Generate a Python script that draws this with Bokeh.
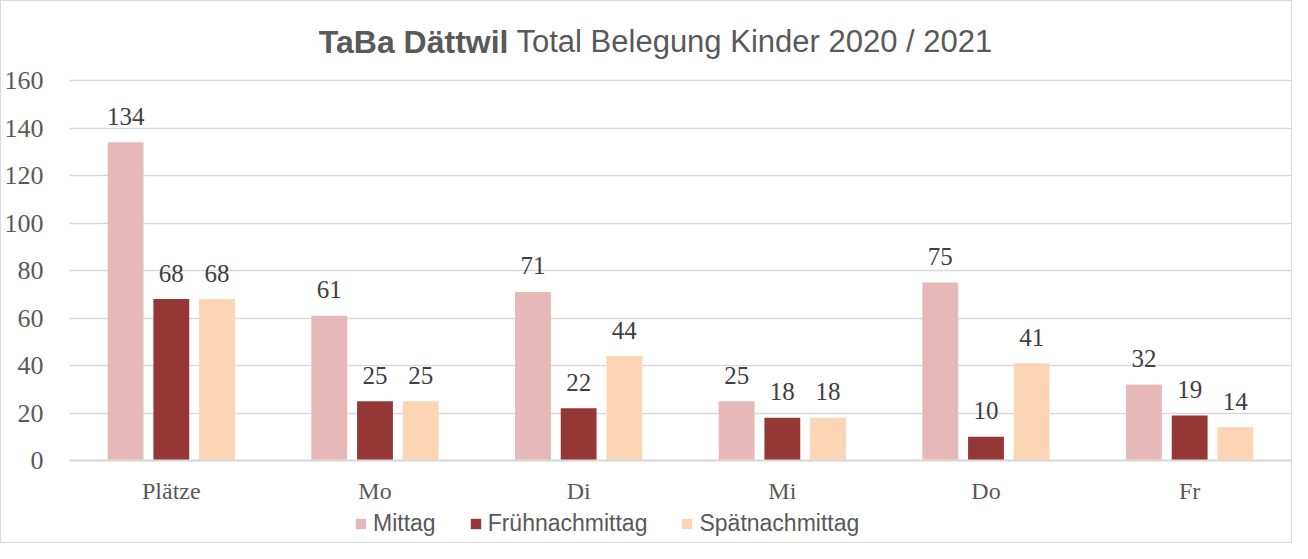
from bokeh.plotting import figure
from bokeh.models import (ColumnDataSource, FactorRange, Range1d, FixedTicker,
                          Legend, LegendItem, Label)
from bokeh.transform import dodge
from bokeh.core.properties import value
from bokeh.embed import file_html
from bokeh.resources import INLINE

categories = ["Plätze", "Mo", "Di", "Mi", "Do", "Fr"]
mittag = [134, 61, 71, 25, 75, 32]
fruehnachmittag = [68, 25, 22, 18, 10, 19]
spaetnachmittag = [68, 25, 44, 18, 41, 14]
series_names = ["Mittag", "Frühnachmittag", "Spätnachmittag"]
colors = ["#E6B9B8", "#953735", "#FCD5B5"]
y_ticks = [0, 20, 40, 60, 80, 100, 120, 140, 160]

src = ColumnDataSource(dict(
    cat=categories,
    m=mittag, f=fruehnachmittag, s=spaetnachmittag,
    ml=[str(v) for v in mittag],
    fl=[str(v) for v in fruehnachmittag],
    sl=[str(v) for v in spaetnachmittag],
))

H = 543
TOP_PX = 79        # pixels above the 160 line
BOT_PX = 84        # pixels below the 0 line
SCALE = (H - TOP_PX - BOT_PX) / 160.0

p = figure(width=1292, height=H, x_range=FactorRange(*categories),
           y_range=Range1d(-BOT_PX / SCALE, 160 + TOP_PX / SCALE),
           output_backend="svg", toolbar_location=None,
           min_border_left=65, min_border_right=2, min_border_top=0,
           min_border_bottom=0, outline_line_color=None,
           styles={"border": "1px solid #d9d9d9", "box-sizing": "border-box"})
p.title.visible = False

offsets = [-0.2244, 0.0, 0.2244]
cols = ["m", "f", "s"]
lcols = ["ml", "fl", "sl"]
renderers = []
for off, c, lc, col in zip(offsets, cols, lcols, colors):
    r = p.vbar(x=dodge("cat", off, range=p.x_range), top=c, width=0.176,
               source=src, fill_color=col, line_color=None)
    renderers.append(r)
    p.text(x=dodge("cat", off, range=p.x_range), y=c, text=lc, source=src,
           text_align="center", text_baseline="alphabetic", y_offset=-26,
           text_font=value("Liberation Serif"), text_font_size="25px",
           text_color="#404040")

# axes
p.yaxis.ticker = FixedTicker(ticks=y_ticks)
p.yaxis.axis_line_color = None
p.yaxis.major_tick_line_color = None
p.yaxis.minor_tick_line_color = None
p.yaxis.major_label_standoff = 20
p.yaxis.major_label_text_font = "Liberation Serif"
p.yaxis.major_label_text_font_size = "26px"
p.yaxis.major_label_text_color = "#595959"

p.xaxis.fixed_location = 0
p.xaxis.axis_line_color = "#d9d9d9"
p.xaxis.axis_line_width = 2
p.xaxis.major_tick_line_color = None
p.xaxis.major_tick_out = 0
p.xaxis.major_tick_in = 0
p.xaxis.major_label_standoff = 17
p.xaxis.major_label_text_font = "Liberation Serif"
p.xaxis.major_label_text_font_size = "24px"
p.xaxis.major_label_text_color = "#595959"

p.xgrid.grid_line_color = None
p.ygrid.grid_line_color = "#d9d9d9"
p.ygrid.grid_line_width = 1.5

legend = Legend(items=[LegendItem(label=n, renderers=[r]) for n, r in zip(series_names, renderers)],
                orientation="horizontal", location=(285, 7),
                glyph_width=13, glyph_height=13, label_standoff=6, spacing=33,
                padding=0, margin=0, border_line_color=None,
                background_fill_alpha=0,
                label_text_font="Liberation Sans", label_text_font_size="23px",
                label_text_color="#595959")
p.add_layout(legend, "center")

# title in two weights
p.add_layout(Label(x=439, y=H - 40, x_units="screen", y_units="screen",
                   text="TaBa Dättwil", text_align="right", text_baseline="middle",
                   text_font="Liberation Sans", text_font_style="bold",
                   text_font_size="32px", text_color="#595959"))
p.add_layout(Label(x=447, y=H - 40, x_units="screen", y_units="screen",
                   text="Total Belegung Kinder 2020 / 2021", text_align="left",
                   text_baseline="middle",
                   text_font="Liberation Sans", text_font_size="31px",
                   text_color="#595959"))

open("out.html", "w").write(file_html(p, INLINE))
